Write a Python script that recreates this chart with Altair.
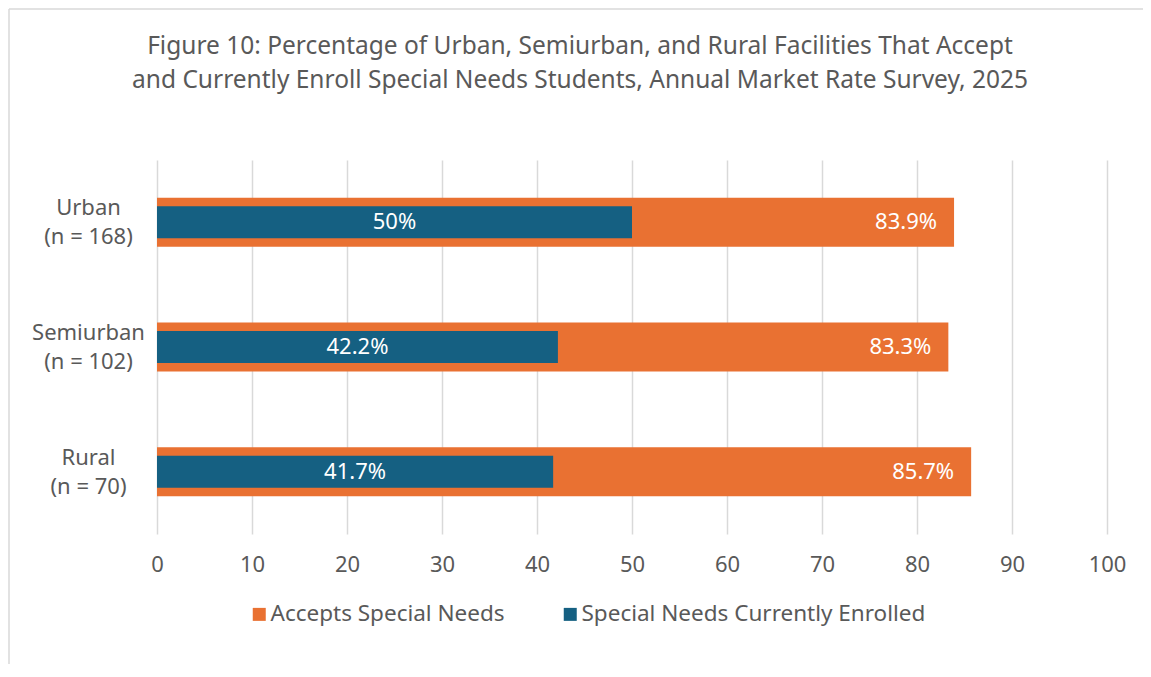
import altair as alt
import pandas as pd

# ---- data ----
regions = ["Urban", "Semiurban", "Rural"]
sample_sizes = [168, 102, 70]
accepts = [83.9, 83.3, 85.7]
enrolled = [50, 42.2, 41.7]
series_names = ["Accepts Special Needs", "Special Needs Currently Enrolled"]
series_colors = ["#E97132", "#156082"]
x_ticks = [0, 10, 20, 30, 40, 50, 60, 70, 80, 90, 100]
title_lines = [
    "Figure 10: Percentage of Urban, Semiurban, and Rural Facilities That Accept",
    "and Currently Enroll Special Needs Students, Annual Market Rate Survey, 2025",
]

cats = [f"{r}\n(n = {n})" for r, n in zip(regions, sample_sizes)]
rows = []
for c, a, e in zip(cats, accepts, enrolled):
    rows.append({"category": c, "series": series_names[0], "value": a, "label": f"{a:g}%"})
    rows.append({"category": c, "series": series_names[1], "value": e, "label": f"{e:g}%"})
df = pd.DataFrame(rows)

FONT = "Noto Sans"
TEXT = "#595959"
FS = 22

x_scale = alt.Scale(domain=[0, 100], nice=False, zero=True)
x_axis = alt.Axis(values=x_ticks, grid=True, gridColor="#d9d9d9", gridWidth=1.5,
                  domain=False, ticks=False, labelPadding=20, labelFontSize=FS,
                  labelColor=TEXT, labelFont=FONT, labelFlush=False, title=None)
y_enc = alt.Y("category:N", sort=cats, title=None,
              scale=alt.Scale(paddingInner=0, paddingOuter=0),
              axis=alt.Axis(labelExpr="split(datum.label, '\\n')", labelAlign="center",
                            labelBaseline="middle", labelPadding=69, labelOffset=-14,
                            ticks=False, domain=False, grid=False, labelFontSize=FS,
                            labelFont=FONT, labelColor=TEXT, labelLineHeight=29,
                            labelLimit=300))
color = alt.Color("series:N", scale=alt.Scale(domain=series_names, range=series_colors),
                  legend=alt.Legend(title=None, orient="none", legendX=91, legendY=443,
                                    direction="horizontal", symbolType="square",
                                    symbolSize=169, symbolStrokeWidth=0,
                                    labelFontSize=22.5, labelFont=FONT, labelColor=TEXT,
                                    labelLimit=500, columnPadding=54, labelOffset=0))

base = alt.Chart(df)
one = pd.DataFrame({"k": [0]})

frame_left = alt.Chart(one).mark_rule(color="#d9d9d9", strokeWidth=1.5).encode(
    x=alt.value(-148), y=alt.value(-151), y2=alt.value(700))
frame_top = alt.Chart(one).mark_rule(color="#d9d9d9", strokeWidth=1.5).encode(
    y=alt.value(-151), x=alt.value(-148), x2=alt.value(1100))

orange = base.transform_filter(alt.datum.series == series_names[0]).mark_bar(size=49).encode(
    x=alt.X("value:Q", scale=x_scale, axis=x_axis), y=y_enc, color=color)
blue = base.transform_filter(alt.datum.series == series_names[1]).mark_bar(size=32).encode(
    x=alt.X("value:Q", scale=x_scale, axis=x_axis), y=y_enc, color=color)

orange_text = base.transform_filter(alt.datum.series == series_names[0]).mark_text(
    align="right", baseline="middle", dx=-17, color="white", fontSize=FS, font=FONT
).encode(x=alt.X("value:Q", scale=x_scale, axis=x_axis), y=y_enc, text="label:N")

blue_text = base.transform_filter(alt.datum.series == series_names[1]).transform_calculate(
    mid="datum.value / 2"
).mark_text(
    align="center", baseline="middle", color="white", fontSize=FS, font=FONT
).encode(x=alt.X("mid:Q", scale=x_scale, axis=x_axis), y=y_enc, text="label:N")

chart = alt.layer(frame_left, frame_top, orange, blue, orange_text, blue_text).properties(
    width=950, height=374,
    autosize=alt.AutoSizeParams(type="none"),
    padding={"left": 149, "top": 152, "right": 36, "bottom": 130},
    background="white",
    title=alt.TitleParams(text=title_lines, fontSize=24.5, font=FONT, color=TEXT,
                          fontWeight="normal", anchor="middle", frame="group",
                          dx=-52, offset=-85, lineHeight=34),
).configure_view(stroke="transparent", strokeWidth=0)

chart.save("out.html", embed_options={"renderer": "svg", "actions": False})
